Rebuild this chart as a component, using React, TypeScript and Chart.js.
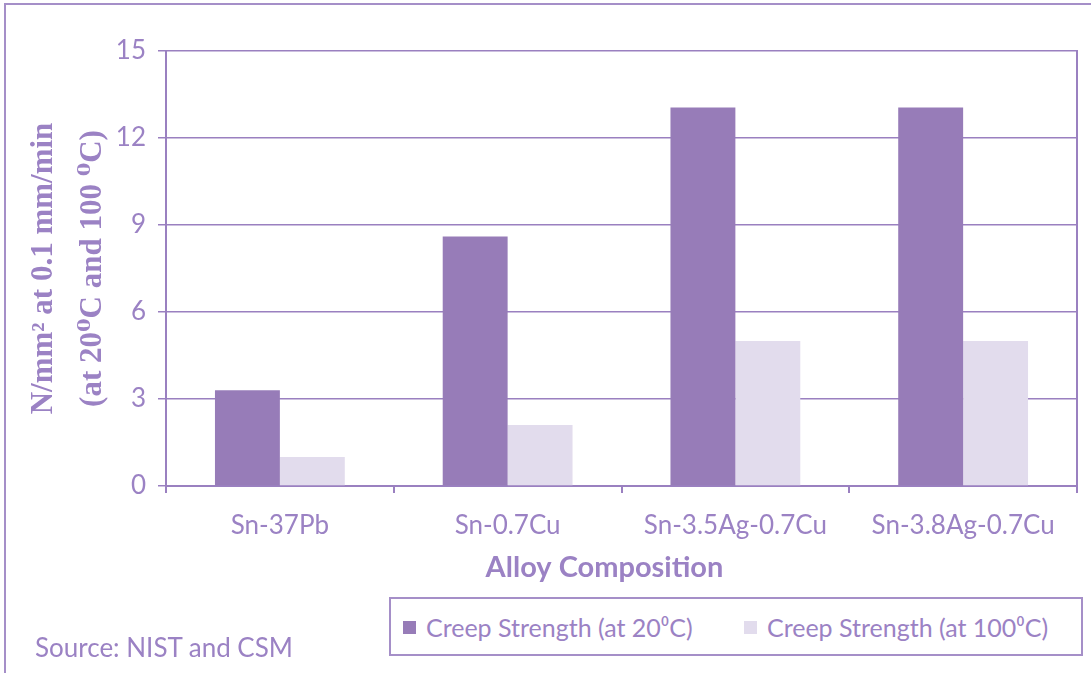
import React, { useEffect, useRef } from "react";
import { Chart, registerables } from "chart.js";

Chart.register(...registerables);

const categories = ["Sn-37Pb", "Sn-0.7Cu", "Sn-3.5Ag-0.7Cu", "Sn-3.8Ag-0.7Cu"];
const seriesNames = ["Creep Strength (at 20\u2070C)", "Creep Strength (at 100\u2070C)"];
const creep20 = [3.3, 8.6, 13.05, 13.05];
const creep100 = [1.0, 2.1, 5.0, 5.0];
const yMin = 0;
const yMax = 15;
const yStep = 3;
const yTitle = ["N/mm\u00b2 at 0.1 mm/min", "(at 20\u2070C and 100 \u2070C)"];
const xTitle = "Alloy Composition";
const sourceText = "Source: NIST and CSM";

const DARK = "#977cb8";
const LIGHT = "#e2dced";
const TEXT = "#9b82c4";
const LINE = "#9a80c0";
const BORDER = "#a58fc8";
const SANS = "Lato, 'Open Sans', sans-serif";
const SERIF = "'Liberation Serif', 'DejaVu Serif', serif";

const frameRight = {
  id: "frameRight",
  afterDatasetsDraw(chart: any) {
    const { ctx, chartArea } = chart;
    ctx.save();
    ctx.strokeStyle = LINE;
    ctx.lineWidth = 2;
    ctx.beginPath();
    ctx.moveTo(chartArea.right, chartArea.top - 1);
    ctx.lineTo(chartArea.right, chartArea.bottom);
    ctx.stroke();
    ctx.restore();
  },
};

const xTitlePlugin = {
  id: "xTitlePlugin",
  afterDraw(chart: any) {
    const { ctx, chartArea } = chart;
    ctx.save();
    ctx.fillStyle = TEXT;
    ctx.font = `bold 29px ${SANS}`;
    ctx.textAlign = "center";
    ctx.textBaseline = "middle";
    ctx.fillText(xTitle, (chartArea.left + chartArea.right) / 2 - 17, chartArea.bottom + 82);
    ctx.restore();
  },
};

export default function App() {
  const ref = useRef<HTMLCanvasElement | null>(null);

  useEffect(() => {
    if (!ref.current) return;
    const chart = new Chart(ref.current, {
      type: "bar",
      data: {
        labels: categories,
        datasets: [
          { label: seriesNames[0], data: creep20, backgroundColor: DARK, borderWidth: 0 },
          { label: seriesNames[1], data: creep100, backgroundColor: LIGHT, borderWidth: 0 },
        ],
      },
      plugins: [frameRight, xTitlePlugin],
      options: {
        animation: false,
        responsive: false,
        devicePixelRatio: 1,
        layout: { padding: { left: 0, top: 51, right: 14, bottom: 87 } },
        plugins: {
          legend: { display: false },
          tooltip: { enabled: false },
        },
        datasets: { bar: { categoryPercentage: 0.57, barPercentage: 1 } },
        scales: {
          x: {
            offset: true,
            grid: {
              display: true,
              offset: true,
              drawOnChartArea: false,
              drawTicks: true,
              tickLength: 7,
              color: LINE,
              lineWidth: 2,
            },
            border: { display: true, color: LINE, width: 2 },
            ticks: {
              color: TEXT,
              font: { family: SANS, size: 26 },
              padding: 17,
              maxRotation: 0,
              autoSkip: false,
            },
            title: { display: false },
            afterFit(scale: any) {
              scale.height = 100;
            },
          },
          y: {
            min: yMin,
            max: yMax,
            grid: {
              color: LINE,
              lineWidth: 1.5,
              drawTicks: true,
              tickLength: 8,
            },
            border: { display: true, color: LINE, width: 2 },
            ticks: {
              stepSize: yStep,
              color: TEXT,
              font: { family: SANS, size: 26 },
              padding: 12,
            },
            title: {
              display: true,
              text: yTitle,
              color: TEXT,
              font: { family: SERIF, size: 31, weight: "bold", lineHeight: 1.6 },
              padding: { top: 19, bottom: 0 },
            },
            afterFit(scale: any) {
              scale.width = 166;
            },
          },
        },
      },
    } as any);
    return () => chart.destroy();
  }, []);

  const legendColors = [DARK, LIGHT];
  const legendLefts = [403, 744];

  return (
    <div
      style={{
        position: "fixed",
        left: 0,
        top: 0,
        width: 1091,
        height: 673,
        background: "#fff",
        overflow: "hidden",
      }}
    >
      <div
        style={{
          position: "absolute",
          left: 4,
          top: 3,
          width: 2000,
          height: 2000,
          border: `2px solid ${BORDER}`,
        }}
      />
      <canvas
        ref={ref}
        width={1091}
        height={673}
        style={{ position: "absolute", left: 0, top: 0, width: 1091, height: 673, display: "block" }}
      />
      <div
        style={{
          position: "absolute",
          left: 389,
          top: 597,
          width: 694,
          height: 59,
          boxSizing: "border-box",
          border: `2px solid ${BORDER}`,
          background: "#fff",
        }}
      />
      {seriesNames.map((name, i) => (
        <div
          key={name}
          style={{
            position: "absolute",
            left: legendLefts[i],
            top: 612,
            height: 30,
            display: "flex",
            alignItems: "center",
            whiteSpace: "nowrap",
            fontFamily: SANS,
            fontSize: 25,
            color: TEXT,
          }}
        >
          <span
            style={{
              display: "inline-block",
              width: 13,
              height: 13,
              background: legendColors[i],
              marginRight: 10,
            }}
          />
          <span>{name}</span>
        </div>
      ))}
      <div
        style={{
          position: "absolute",
          left: 35,
          top: 632,
          lineHeight: "30px",
          fontFamily: SANS,
          fontSize: 26,
          color: TEXT,
          whiteSpace: "nowrap",
        }}
      >
        {sourceText}
      </div>
    </div>
  );
}
